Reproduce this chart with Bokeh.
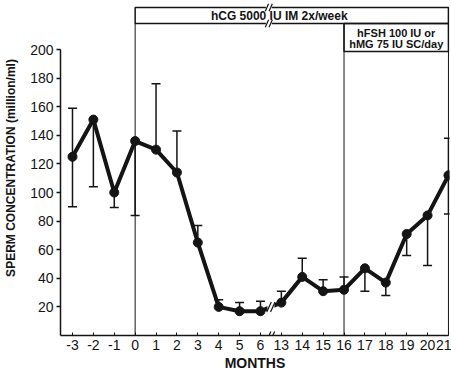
from bokeh.plotting import figure
from bokeh.models import Range1d, FixedTicker, Label
from bokeh.embed import file_html
from bokeh.resources import INLINE

# ---- data ----
months = ["-3", "-2", "-1", "0", "1", "2", "3", "4", "5", "6",
          "13", "14", "15", "16", "17", "18", "19", "20", "21"]
conc = [125, 151, 100, 136, 130, 114, 65, 20, 17, 17,
        23, 41, 31, 32, 47, 37, 71, 84, 112]
err_upper = [159, None, None, None, 176, 143, 77, 25, 23, 24,
             31, 54, 39, 41, None, None, None, None, 138]
err_lower = [90, 104, 89.5, 84, None, None, None, None, None, None,
             None, None, None, None, 31, 28, 56, 49, 85]
y_ticks = [20, 40, 60, 80, 100, 120, 140, 160, 180, 200]
hcg_text = "hCG 5000 IU IM 2x/week"
fsh_text = ["hFSH 100 IU or", "hMG 75 IU SC/day"]
x_title = "MONTHS"
y_title = "SPERM CONCENTRATION (million/ml)"

INK = "#141414"
FONT = "Liberation Sans"

xs = list(range(len(months)))
i0 = months.index("0")
i16 = months.index("16")
i21 = len(months) - 1
brk = months.index("6") + 0.5

X0, X1 = -0.574, 18.05
Y0, Y1 = 0, 234.3
BOX1_TOP, BOX1_BOT, BOX2_BOT = 229.4, 218.2, 198.6

p = figure(width=451, height=374, x_range=Range1d(X0, X1), y_range=Range1d(Y0, Y1),
           output_backend="svg", toolbar_location=None,
           min_border_left=60, min_border_right=2, min_border_top=0, min_border_bottom=39)
p.outline_line_color = None
p.xgrid.visible = False
p.ygrid.visible = False
p.background_fill_color = "white"

# axes
ya = p.yaxis[0]
ya.ticker = FixedTicker(ticks=y_ticks)
ya.bounds = (0, 200)
ya.major_tick_out = 4
ya.major_tick_in = 0
ya.minor_tick_line_color = None
ya.axis_line_width = 1.5
ya.axis_line_color = INK
ya.major_tick_line_color = INK
ya.major_tick_line_width = 1.5
ya.major_label_text_font = FONT
ya.major_label_text_font_size = "14px"
ya.major_label_text_color = INK
ya.major_label_standoff = 3
ya.axis_label = y_title
ya.axis_label_text_font = FONT
ya.axis_label_text_font_style = "bold"
ya.axis_label_text_font_size = "12px"
ya.axis_label_text_color = INK
ya.axis_label_standoff = 9

xa = p.xaxis[0]
xa.ticker = FixedTicker(ticks=xs)
xa.major_label_overrides = {i: m for i, m in zip(xs, months)}
xa.bounds = (X0, i21)
xa.major_tick_in = 3
xa.major_tick_out = 0
xa.minor_tick_line_color = None
xa.axis_line_width = 1.5
xa.axis_line_color = INK
xa.major_tick_line_color = INK
xa.major_label_text_font = FONT
xa.major_label_text_font_size = "14px"
xa.major_label_text_color = INK
xa.major_label_standoff = 4
xa.axis_label = x_title
xa.axis_label_text_font = FONT
xa.axis_label_text_font_style = "bold"
xa.axis_label_text_font_size = "14px"
xa.axis_label_text_color = INK
xa.axis_label_standoff = 2

# treatment boxes and vertical dividers
p.segment(x0=[i0, i16, i21], y0=[Y0] * 3, x1=[i0, i16, i21], y1=[BOX1_BOT, BOX1_BOT, BOX1_TOP],
          line_color=INK, line_width=1)
p.quad(left=[i0, i16], right=[i21, i21], bottom=[BOX1_BOT, BOX2_BOT], top=[BOX1_TOP, BOX1_BOT],
       fill_color=None, line_color=INK, line_width=1.5)

# error bars
stem_x, stem_lo, stem_hi, cap_x, cap_y = [], [], [], [], []
for i, (v, up, lo) in enumerate(zip(conc, err_upper, err_lower)):
    if up is None and lo is None:
        continue
    stem_x.append(i)
    stem_lo.append(lo if lo is not None else v)
    stem_hi.append(up if up is not None else v)
    if up is not None:
        cap_x.append(i); cap_y.append(up)
    if lo is not None:
        cap_x.append(i); cap_y.append(lo)
p.segment(x0=stem_x, y0=stem_lo, x1=stem_x, y1=stem_hi, line_color=INK, line_width=1.5)
p.scatter(cap_x, cap_y, marker="dash", size=9, line_color=INK, line_width=1.5)

# main series
p.line(xs, conc, line_color=INK, line_width=4, line_join="round")
p.scatter(xs, conc, size=9, fill_color=INK, line_color=INK)


# break marks "//"
def brk_mark(x, y, w=7, h=10):
    p.rect(x=[x], y=[y], width=w, height=h, width_units="screen", height_units="screen",
           fill_color="white", line_color=None)
    p.scatter(x=[x - 0.09, x + 0.09], y=[y, y], marker="dash", size=h + 1, angle=1.15,
              line_color=INK, line_width=1.2)


brk_mark(brk, (conc[9] + conc[10]) / 2)
brk_mark(brk, Y0, h=8)
brk_mark(brk - 0.1, BOX1_TOP, w=6, h=7)
brk_mark(brk - 0.1, BOX1_BOT, w=6, h=7)

# box texts
p.add_layout(Label(x=9.9, y=223.8, text=hcg_text, text_align="center",
                   text_baseline="middle", text_font=FONT, text_font_style="bold",
                   text_font_size="12px", text_color=INK))
for k, t in enumerate(fsh_text):
    p.add_layout(Label(x=(i16 + i21) / 2, y=[211.9, 203.8][k], text=t, text_align="center",
                       text_baseline="middle", text_font=FONT, text_font_style="bold",
                       text_font_size="11px", text_color=INK))

open("out.html", "w").write(file_html(p, INLINE))
